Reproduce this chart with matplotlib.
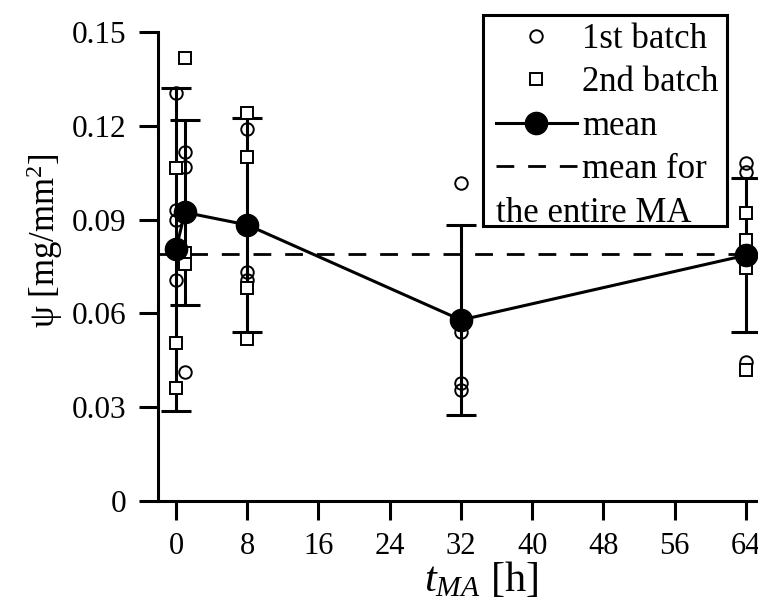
import matplotlib
matplotlib.use("Agg")
import matplotlib.pyplot as plt
from matplotlib.lines import Line2D
from matplotlib.text import Text
from matplotlib.patches import Rectangle
from matplotlib.legend_handler import HandlerBase

# ---------------- data ----------------
times = [0, 1, 8, 32, 64]
mean_psi = [0.0805, 0.0923, 0.0883, 0.0579, 0.0786]
err_psi = [0.0516, 0.0295, 0.0341, 0.0304, 0.0247]
overall_mean = 0.0791

batch1_t = [0, 0, 0, 0, 1, 1, 1, 8, 8, 8, 32, 32, 32, 32, 64, 64, 64]
batch1_psi = [0.1304, 0.0931, 0.0899, 0.0707,
              0.1117, 0.1069, 0.0414,
              0.1189, 0.0733, 0.0707,
              0.1018, 0.0542, 0.0377, 0.0355,
              0.1080, 0.1053, 0.0446]

batch2_t = [0, 0, 0, 1, 1, 1, 1, 8, 8, 8, 8, 64, 64, 64, 64]
batch2_psi = [0.1066, 0.0504, 0.0360,
              0.1416, 0.0918, 0.0792, 0.0757,
              0.1240, 0.1101, 0.0680, 0.0517,
              0.0920, 0.0835, 0.0744, 0.0419]

x_ticks = [0, 8, 16, 24, 32, 40, 48, 56, 64]
y_ticks = [0, 0.03, 0.06, 0.09, 0.12, 0.15]
y_tick_labels = ["0", "0.03", "0.06", "0.09", "0.12", "0.15"]
legend_labels = ["1st batch", "2nd batch", "mean", "mean for", "the entire MA"]

# ---------------- style ----------------
plt.rcParams["font.family"] = ["Liberation Serif", "DejaVu Serif"]
plt.rcParams["mathtext.fontset"] = "custom"
plt.rcParams["mathtext.rm"] = "Liberation Serif"
plt.rcParams["mathtext.it"] = "Liberation Serif:italic"
plt.rcParams["mathtext.bf"] = "Liberation Serif:bold"

W, H = 758, 610
fig = plt.figure(figsize=(W / 100, H / 100), dpi=100)
ax = fig.add_axes([158 / W, 109 / H, 600 / W, 469 / H])
ax.set_xlim(-2.02, 65.35)
ax.set_ylim(0, 0.15)

LW = 2.2
for s in ["top", "right"]:
    ax.spines[s].set_visible(False)
for s in ["left", "bottom"]:
    ax.spines[s].set_linewidth(LW)

ax.set_xticks(x_ticks)
ax.set_yticks(y_ticks)
ax.set_yticklabels(y_tick_labels)
ax.tick_params(axis="both", direction="out", length=14, width=LW,
               labelsize=22.5, colors="black")
ax.tick_params(axis="x", labelsize=22)
ax.tick_params(axis="y", pad=9)
ax.tick_params(axis="x", pad=8)

dash = (0, (6.4, 5.0))
ax.axhline(overall_mean, color="black", lw=2.0, linestyle=dash, zorder=1)

ax.errorbar(times, mean_psi, yerr=err_psi, fmt="none", ecolor="black",
            elinewidth=LW, capsize=10.5, capthick=LW, zorder=2)

h1, = ax.plot(batch1_t, batch1_psi, linestyle="none", marker="o", ms=9,
              mfc="none", mec="black", mew=1.4, zorder=3)
h2, = ax.plot(batch2_t, batch2_psi, linestyle="none", marker="s", ms=8.5,
              mfc="white", mec="black", mew=1.4, zorder=3)
hm, = ax.plot(times, mean_psi, color="black", lw=2.2, marker="o", ms=16,
              mfc="black", mec="black", zorder=5)
hd = Line2D([], [], color="black", lw=2.0, linestyle=dash)
hcont = Line2D([], [])


class ContinuationHandler(HandlerBase):
    """Draws the second line of the last legend label, starting under the handles."""
    def __init__(self, text):
        super().__init__()
        self.text = text

    def create_artists(self, legend, orig_handle, xdescent, ydescent,
                       width, height, fontsize, trans):
        t = Text(-xdescent, -ydescent, self.text, fontproperties=legend.prop,
                 ha="left", va="baseline", color="black", transform=trans)
        return [t]


# legend frame (drawn separately so its padding matches the reference)
frame = Rectangle((483 / W, (H - 226) / H), 244 / W, 211 / H,
                  transform=fig.transFigure, facecolor="white",
                  edgecolor="black", linewidth=LW, zorder=9, clip_on=False)
ax.add_patch(frame)

leg = ax.legend([h1, h2, hm, hd, hcont],
                legend_labels[:4] + [""],
                handler_map={hcont: ContinuationHandler(legend_labels[4])},
                loc="upper left",
                bbox_to_anchor=(496 / W, (H - 23) / H),
                bbox_transform=fig.transFigure,
                borderaxespad=0, frameon=False,
                prop={"family": "Liberation Serif", "size": 25},
                handlelength=2.33, handletextpad=0.14, borderpad=0,
                labelspacing=0.3, numpoints=1)
leg.set_zorder(10)

ax.set_ylabel("ψ [mg/mm$^{2}$]", fontsize=25)
ax.yaxis.set_label_coords(-0.155, 0.554)
ax.set_xlabel("$t_{MA}$ [h]", fontsize=30.5)
ax.xaxis.set_label_coords(0.538, -0.125)

fig.savefig("out.png", dpi=100)
